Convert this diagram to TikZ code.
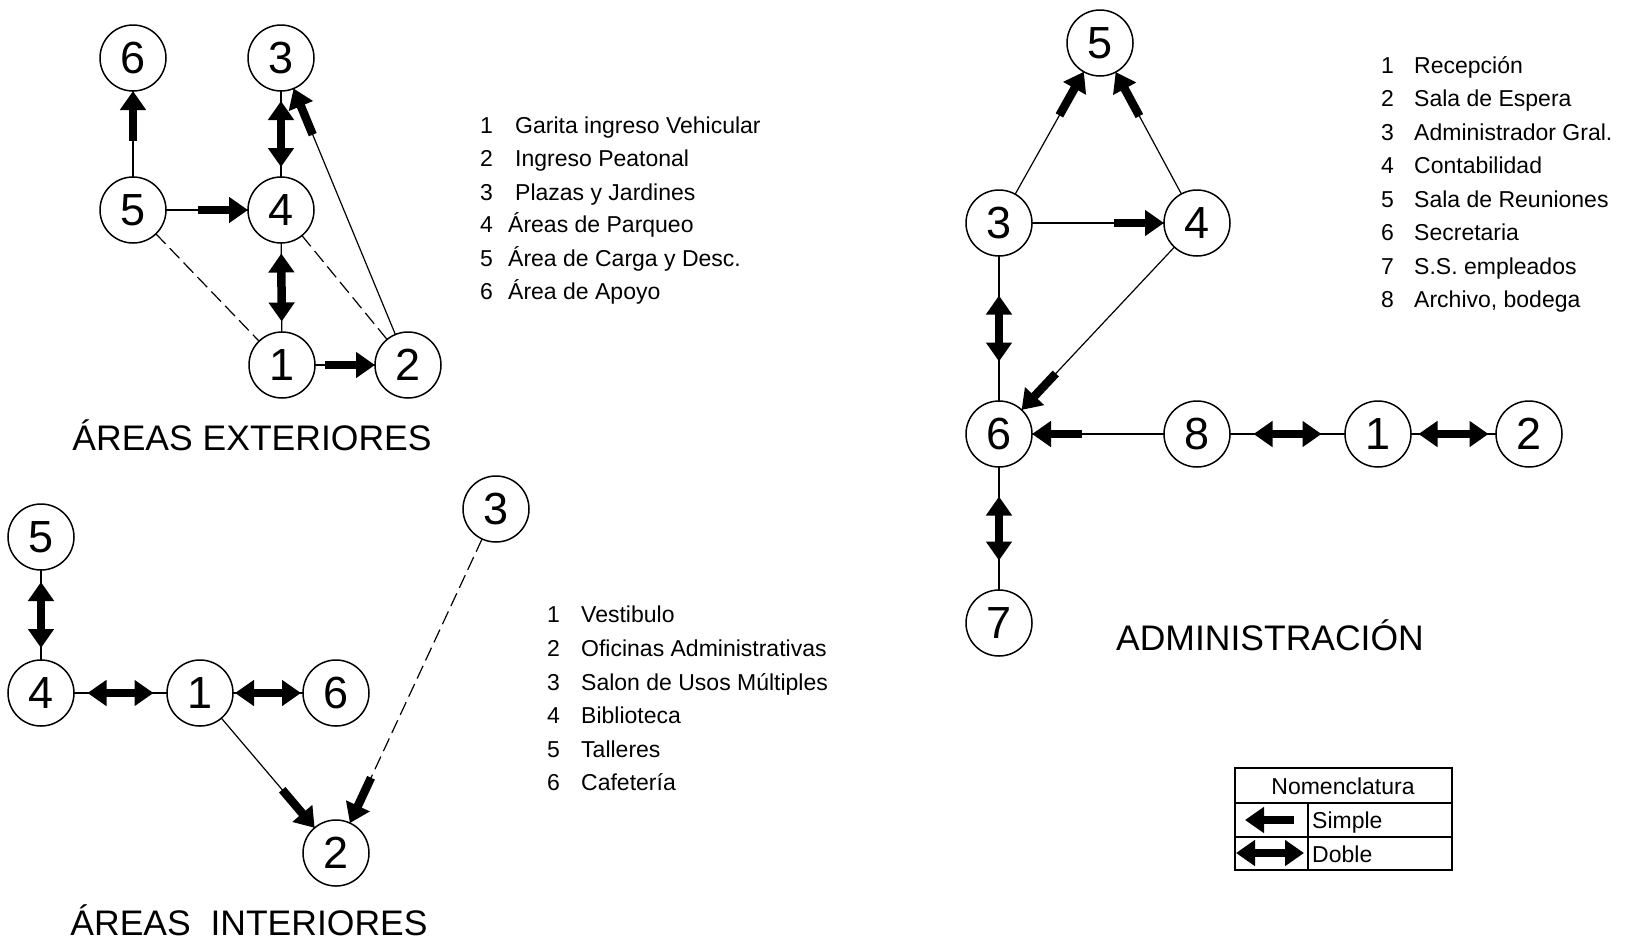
\documentclass[tikz,border=0pt]{standalone}
\usepackage{fontspec}
\setmainfont{Liberation Sans}
\usetikzlibrary{arrows.meta,calc}
\begin{document}
\begin{tikzpicture}[x=1pt,y=-1pt,
 nd/.style={circle,draw,line width=1.5pt,minimum size=66pt,inner sep=0pt,outer sep=0pt,font=\fontsize{45}{45}\selectfont},
 thinl/.style={line width=1.2pt},
 dashl/.style={line width=1.2pt,dash pattern=on 14pt off 6pt},
 simple/.style={line width=8.5pt,-{Triangle[length=19pt,width=25pt]}},
 dbl/.style={line width=8.5pt,{Triangle[length=19pt,width=25pt]}-{Triangle[length=19pt,width=25pt]}},
 lg/.style={anchor=base west,inner sep=0pt,font=\fontsize{23}{23}\selectfont},
 ttl/.style={anchor=base,inner sep=0pt,font=\fontsize{35.5}{36}\selectfont},
 box/.style={line width=1.2pt}]
\useasboundingbox (0,0) rectangle (1627,948);

% ---------- AREAS EXTERIORES ----------
\node[nd] (e6) at (133,58) {6};
\node[nd] (e3) at (281,58) {3};
\node[nd] (e5) at (133,210) {5};
\node[nd] (e4) at (281,210) {4};
\node[nd] (e1) at (282,365) {1};
\node[nd] (e2) at (408,365) {2};
\draw[thinl] (e5) -- (e6);
\draw[simple] ($(e6)!83pt!(e5)$) -- (e6);
\draw[thinl] (e5) -- (e4);
\draw[simple] ($(e4)!83pt!(e5)$) -- (e4);
\draw[thinl] (e1) -- (e2);
\draw[simple] ($(e2)!83pt!(e1)$) -- (e2);
\draw[thinl] (e2) -- (e3);
\draw[simple] ($(e3)!83pt!(e2)$) -- (e3);
\draw[thinl] (e3) -- (e4);
\draw[dbl] ($(e3)!0.5!(e4)!33pt!(e3)$) -- ($(e3)!0.5!(e4)!33pt!(e4)$);
\draw[thinl] (e4) -- (e1);
\draw[dbl] ($(e4)!0.5!(e1)!34pt!(e4)$) -- ($(e4)!0.5!(e1)!34pt!(e1)$);
\draw[dashl] (e5) -- (e1);
\draw[dashl] (e4) -- (e2);
\node[ttl] (t1) at (252,450) {ÁREAS EXTERIORES};

\node[lg] (l1n1) at (480,133) {1};
\node[lg] (l1t1) at (515,133) {Garita ingreso Vehicular};
\node[lg] (l1n2) at (480,166) {2};
\node[lg] (l1t2) at (515,166) {Ingreso Peatonal};
\node[lg] (l1n3) at (480,200) {3};
\node[lg] (l1t3) at (515,200) {Plazas y Jardines};
\node[lg] (l1n4) at (480,232) {4};
\node[lg] (l1t4) at (508,232) {Áreas de Parqueo};
\node[lg] (l1n5) at (480,266) {5};
\node[lg] (l1t5) at (508,266) {Área de Carga y Desc.};
\node[lg] (l1n6) at (480,299) {6};
\node[lg] (l1t6) at (508,299) {Área de Apoyo};

% ---------- AREAS INTERIORES ----------
\node[nd] (i5) at (41,537) {5};
\node[nd] (i4) at (41,693) {4};
\node[nd] (i1) at (200,693) {1};
\node[nd] (i6) at (336,693) {6};
\node[nd] (i3) at (496,509) {3};
\node[nd] (i2) at (336,853) {2};
\draw[thinl] (i5) -- (i4);
\draw[dbl] ($(i5)!0.5!(i4)!33pt!(i5)$) -- ($(i5)!0.5!(i4)!33pt!(i4)$);
\draw[thinl] (i4) -- (i1);
\draw[dbl] ($(i4)!0.5!(i1)!33pt!(i4)$) -- ($(i4)!0.5!(i1)!33pt!(i1)$);
\draw[thinl] (i1) -- (i6);
\draw[dbl] ($(i1)!0.5!(i6)!33pt!(i1)$) -- ($(i1)!0.5!(i6)!33pt!(i6)$);
\draw[thinl] (i1) -- (i2);
\draw[simple] ($(i2)!83pt!(i1)$) -- (i2);
\draw[dashl] (i3) -- (i2);
\draw[simple] ($(i2)!83pt!(i3)$) -- (i2);
\node[ttl] (t2) at (249,935) {ÁREAS\ \ INTERIORES};

\node[lg] (l2n1) at (547,622) {1};
\node[lg] (l2t1) at (581,622) {Vestibulo};
\node[lg] (l2n2) at (547,656) {2};
\node[lg] (l2t2) at (581,656) {Oficinas Administrativas};
\node[lg] (l2n3) at (547,690) {3};
\node[lg] (l2t3) at (581,690) {Salon de Usos Múltiples};
\node[lg] (l2n4) at (547,723) {4};
\node[lg] (l2t4) at (581,723) {Biblioteca};
\node[lg] (l2n5) at (547,757) {5};
\node[lg] (l2t5) at (581,757) {Talleres};
\node[lg] (l2n6) at (547,790) {6};
\node[lg] (l2t6) at (581,790) {Cafetería};

% ---------- ADMINISTRACION ----------
\node[nd] (a5) at (1100,43) {5};
\node[nd] (a3) at (999,223) {3};
\node[nd] (a4) at (1197,223) {4};
\node[nd] (a6) at (999,434) {6};
\node[nd] (a8) at (1197,434) {8};
\node[nd] (a1) at (1378,434) {1};
\node[nd] (a2) at (1529,434) {2};
\node[nd] (a7) at (999,623) {7};
\draw[thinl] (a3) -- (a5);
\draw[simple] ($(a5)!83pt!(a3)$) -- (a5);
\draw[thinl] (a4) -- (a5);
\draw[simple] ($(a5)!83pt!(a4)$) -- (a5);
\draw[thinl] (a3) -- (a4);
\draw[simple] ($(a4)!83pt!(a3)$) -- (a4);
\draw[thinl] (a4) -- (a6);
\draw[simple] ($(a6)!83pt!(a4)$) -- (a6);
\draw[thinl] (a8) -- (a6);
\draw[simple] ($(a6)!83pt!(a8)$) -- (a6);
\draw[thinl] (a3) -- (a6);
\draw[dbl] ($(a3)!0.5!(a6)!33pt!(a3)$) -- ($(a3)!0.5!(a6)!33pt!(a6)$);
\draw[thinl] (a6) -- (a7);
\draw[dbl] ($(a6)!0.5!(a7)!32pt!(a6)$) -- ($(a6)!0.5!(a7)!32pt!(a7)$);
\draw[thinl] (a8) -- (a1);
\draw[dbl] ($(a8)!0.5!(a1)!34pt!(a8)$) -- ($(a8)!0.5!(a1)!34pt!(a1)$);
\draw[thinl] (a1) -- (a2);
\draw[dbl] ($(a1)!0.5!(a2)!35pt!(a1)$) -- ($(a1)!0.5!(a2)!35pt!(a2)$);
\node[ttl] (t3) at (1270,650) {ADMINISTRACIÓN};

\node[lg] (l3n1) at (1381,73) {1};
\node[lg] (l3t1) at (1414,73) {Recepción};
\node[lg] (l3n2) at (1381,106) {2};
\node[lg] (l3t2) at (1414,106) {Sala de Espera};
\node[lg] (l3n3) at (1381,140) {3};
\node[lg] (l3t3) at (1414,140) {Administrador Gral.};
\node[lg] (l3n4) at (1381,173) {4};
\node[lg] (l3t4) at (1414,173) {Contabilidad};
\node[lg] (l3n5) at (1381,207) {5};
\node[lg] (l3t5) at (1414,207) {Sala de Reuniones};
\node[lg] (l3n6) at (1381,240) {6};
\node[lg] (l3t6) at (1414,240) {Secretaria};
\node[lg] (l3n7) at (1381,274) {7};
\node[lg] (l3t7) at (1414,274) {S.S. empleados};
\node[lg] (l3n8) at (1381,307) {8};
\node[lg] (l3t8) at (1414,307) {Archivo, bodega};

% ---------- Nomenclatura ----------
\draw[box] (1235,768) rectangle (1452,870);
\draw[box] (1235,803) -- (1452,803);
\draw[box] (1235,837) -- (1452,837);
\draw[box] (1308,803) -- (1308,870);
\node[anchor=base,inner sep=0pt,font=\fontsize{23}{23}\selectfont] (nomt) at (1343,794) {Nomenclatura};
\node[lg] (nsim) at (1312,828) {Simple};
\node[lg] (ndob) at (1312,862) {Doble};
\coordinate (sa) at (1294,820);
\coordinate (sb) at (1245,820);
\draw[simple] (sa) -- (sb);
\coordinate (da) at (1236,853);
\coordinate (db) at (1304,853);
\draw[dbl] (da) -- (db);
\end{tikzpicture}
\end{document}
